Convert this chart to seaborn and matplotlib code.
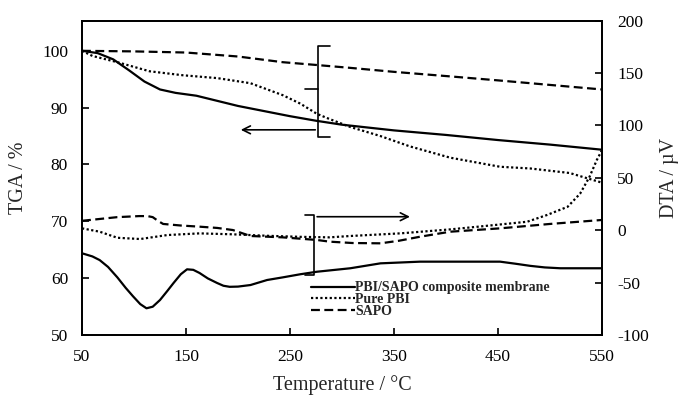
import matplotlib
matplotlib.use("Agg")
import matplotlib.pyplot as plt
import seaborn as sns
import pandas as pd
from matplotlib.lines import Line2D

sns.set_style("ticks")
plt.rcParams['font.family'] = ['Liberation Serif', 'DejaVu Serif']
plt.rcParams['mathtext.fontset'] = 'stix'

# ---- data ----
# TGA (left axis, %)
tga_comp_T = [50, 65, 80, 95, 110, 125, 140, 160, 180, 200, 225, 250, 275, 300, 325, 350, 400, 450, 500, 550]
tga_comp_v = [100, 99.6, 98.5, 96.6, 94.6, 93.2, 92.6, 92.1, 91.2, 90.3, 89.4, 88.5, 87.7, 87.0, 86.5, 86.0, 85.2, 84.3, 83.5, 82.6]

tga_pbi_T = [50, 60, 84, 115, 147, 180, 212, 243, 260, 276, 288, 308, 337, 365, 404, 452, 481, 519, 550]
tga_pbi_v = [100, 99.1, 98.0, 96.4, 95.7, 95.2, 94.3, 92.2, 90.7, 88.9, 88.0, 86.6, 85.0, 83.2, 81.2, 79.6, 79.3, 78.5, 76.8]

tga_sapo_T = [50, 100, 150, 200, 243, 276, 308, 350, 404, 450, 500, 550]
tga_sapo_v = [100, 99.9, 99.7, 99.0, 98.0, 97.5, 97.0, 96.3, 95.5, 94.8, 94.0, 93.2]

# DTA (right axis, µV)
dta_comp_T = [50, 60, 67, 75, 84, 92, 99, 106, 112, 118, 125, 132, 138, 145, 151, 157, 163, 171, 180, 186, 192, 200, 212, 228,
              243, 260, 276, 308, 337, 375, 420, 452, 467, 481, 495, 510, 550]
dta_comp_v = [-22, -25, -28.5, -35, -45, -55, -63, -70.5, -74.5, -73, -66.6, -58, -50.4, -42, -37.3, -37.8, -40.8, -46, -50.4, -53, -54, -53.8, -52.3, -47.5,
              -45, -42, -39.6, -36.3, -31.6, -30, -30, -30, -32, -34, -35.5, -36.3, -36.3]

dta_pbi_T = [50, 67, 84, 106, 132, 163, 195, 228, 260, 288, 308, 356, 404, 431, 452, 478, 497, 517, 529, 538, 545, 550]
dta_pbi_v = [1.8, -1.4, -7.2, -8.4, -4.6, -3, -3.9, -5.3, -6.3, -6.8, -5.5, -3, 0.8, 3.4, 5.5, 8.1, 14.5, 22.4, 35, 51, 67, 76.5]

dta_sapo_T = [50, 84, 105, 113, 118, 123, 128, 145, 163, 180, 195, 212, 243, 276, 288, 310, 337, 355, 375, 404, 452, 500, 550]
dta_sapo_v = [9, 12.5, 13.5, 13.5, 12.5, 9, 6, 4.5, 3.4, 2.2, 0.2, -5.5, -6.8, -9.3, -10.9, -12.2, -12.5, -10, -6.2, -1.4, 1.8, 6, 9.8]

labels = ["PBI/SAPO composite membrane", "Pure PBI", "SAPO"]
x_ticks = [50, 150, 250, 350, 450, 550]
left_ticks = [50, 60, 70, 80, 90, 100]
right_ticks = [-100, -50, 0, 50, 100, 150, 200]

# ---- figure ----
fig, ax = plt.subplots(figsize=(6.83, 3.97), dpi=100)
fig.subplots_adjust(left=82/683, right=602/683, top=1-20.7/397, bottom=1-335/397)
ax2 = ax.twinx()

lw = 1.6
styles = [dict(linestyle='-'),
          dict(linestyle=(0, (1, 1.1))),
          dict(linestyle=(0, (4, 2)))]

for (T, v), st in zip([(tga_comp_T, tga_comp_v), (tga_pbi_T, tga_pbi_v), (tga_sapo_T, tga_sapo_v)], styles):
    sns.lineplot(x=T, y=v, ax=ax, color='black', lw=lw, **st)
for (T, v), st in zip([(dta_comp_T, dta_comp_v), (dta_pbi_T, dta_pbi_v), (dta_sapo_T, dta_sapo_v)], styles):
    sns.lineplot(x=T, y=v, ax=ax2, color='black', lw=lw, **st)

ax.set_xlim(50, 550)
ax.set_ylim(50, 105.3)
ax2.set_ylim(-100, 200)
ax.set_xticks(x_ticks)
ax.set_yticks(left_ticks)
ax2.set_yticks(right_ticks)
ax.set_yticklabels([str(t) for t in left_ticks])
ax2.set_yticklabels([str(t) for t in right_ticks])

for a in (ax, ax2):
    for s in a.spines.values():
        s.set_linewidth(1.3)
        s.set_color('black')
        s.set_visible(True)
ax.tick_params(axis='both', direction='in', length=5, width=1.2, labelsize=12.5, pad=10, colors='black')
ax2.tick_params(axis='y', direction='in', length=5, width=1.2, labelsize=12.5, pad=11, colors='black')

ax.set_xlabel("Temperature / °C", fontsize=14.5, labelpad=7)
ax.set_ylabel("TGA / %", fontsize=14.5, labelpad=10)
ax2.set_ylabel("DTA / µV", fontsize=14.5, labelpad=8)

# ---- annotations: braces and arrows ----
# upper brace (TGA group) in left-axis coords
ax.plot([288.5, 277, 277, 288.5], [100.9, 100.9, 84.8, 84.8], color='black', lw=1.2)
ax.plot([264.5, 277], [93.2, 93.2], color='black', lw=1.2)
ax.annotate("", xy=(200, 86.1), xytext=(277, 86.1),
            arrowprops=dict(arrowstyle='->', color='black', lw=1.2, mutation_scale=14))
# lower bracket (DTA group) in right-axis coords
ax2.plot([264.4, 273.4, 273.4, 264.4], [14.5, 14.5, -42.7, -42.7], color='black', lw=1.2)
ax2.annotate("", xy=(368, 12.9), xytext=(273.4, 12.9),
             arrowprops=dict(arrowstyle='->', color='black', lw=1.2, mutation_scale=14))

# ---- legend ----
handles = [Line2D([0], [0], color='black', lw=lw, **st) for st in styles]
leg = ax.legend(handles, labels, loc='upper left', bbox_to_anchor=(0.424, 0.197),
                frameon=False, handlelength=3.2, handletextpad=0.0, labelspacing=-0.1,
                borderpad=0.1, prop=dict(family='Liberation Serif', weight='bold', size=10))

fig.savefig("out.png", dpi=100)
